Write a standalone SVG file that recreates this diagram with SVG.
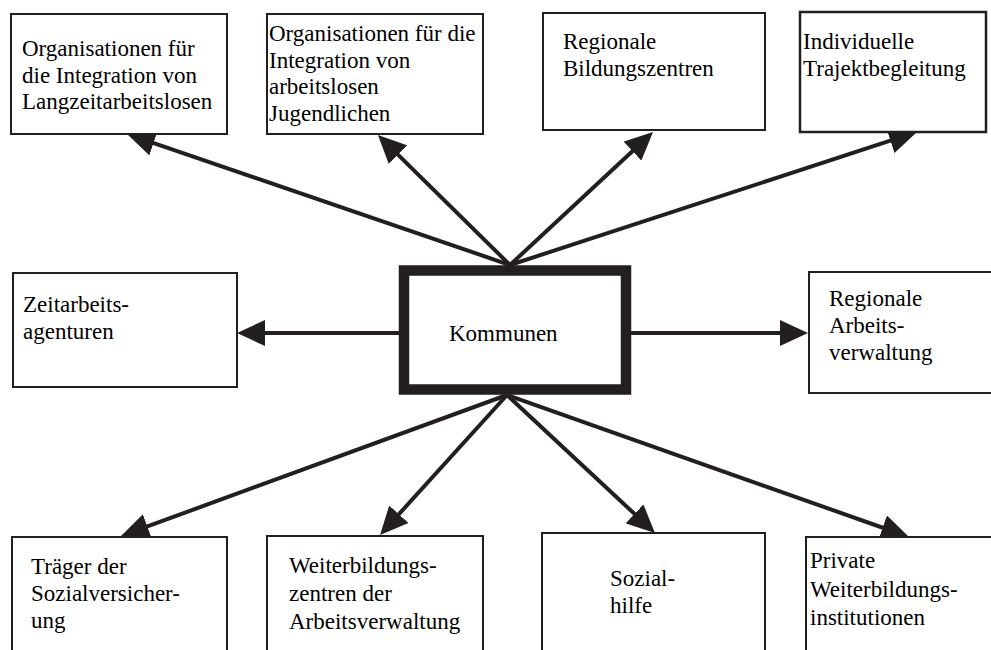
<svg xmlns="http://www.w3.org/2000/svg" width="991" height="650" viewBox="0 0 991 650">
  <style>
    .box { fill: #ffffff; stroke: #231f20; stroke-width: 2; }
    .hub { fill: #ffffff; stroke: #231f20; stroke-width: 10.5; }
    .lbl { font-family: "Liberation Serif", "Times New Roman", serif; font-size: 23px; fill: #000000; }
    .link { stroke: #231f20; stroke-width: 4; fill: none; marker-end: url(#head); }
  </style>
  <defs>
    <marker id="head" markerUnits="userSpaceOnUse" markerWidth="28" markerHeight="26" refX="16" refY="13" orient="auto">
      <path d="M0,0 L28,13 L0,26 z" fill="#231f20"/>
    </marker>
  </defs>
  <rect width="991" height="650" fill="#ffffff"/>

  <!-- connectors from the central node -->
  <g id="connectors">
    <line class="link" x1="510" y1="265" x2="138.4" y2="137.9"/>
    <line class="link" x1="510" y1="265" x2="386.5" y2="143.4"/>
    <line class="link" x1="510" y1="265" x2="644.2" y2="140.2"/>
    <line class="link" x1="510" y1="265" x2="905.6" y2="135.7"/>
    <line class="link" x1="399" y1="333" x2="249" y2="333"/>
    <line class="link" x1="631" y1="333" x2="796" y2="333"/>
    <line class="link" x1="507" y1="395" x2="132.3" y2="531.9"/>
    <line class="link" x1="507" y1="395" x2="388.1" y2="526.1"/>
    <line class="link" x1="507" y1="395" x2="646.2" y2="524.8"/>
    <line class="link" x1="507" y1="395" x2="897.7" y2="533"/>
  </g>

  <g id="kommunen">
    <rect class="hub" x="404" y="270.5" width="222" height="119"/>
    <text class="lbl" x="449" y="341">Kommunen</text>
  </g>

  <g id="langzeitarbeitslose">
    <rect class="box" x="11" y="14" width="216" height="120"/>
    <text class="lbl" x="22" y="56">Organisationen für</text>
    <text class="lbl" x="22" y="82.5">die Integration von</text>
    <text class="lbl" x="22" y="109">Langzeitarbeitslosen</text>
  </g>

  <g id="jugendliche">
    <rect class="box" x="267" y="14" width="216" height="120"/>
    <text class="lbl" x="269" y="41">Organisationen für die</text>
    <text class="lbl" x="269" y="67.5">Integration von</text>
    <text class="lbl" x="269" y="94">arbeitslosen</text>
    <text class="lbl" x="269" y="120.5">Jugendlichen</text>
  </g>

  <g id="bildungszentren">
    <rect class="box" x="543" y="13" width="222" height="117"/>
    <text class="lbl" x="563" y="49">Regionale</text>
    <text class="lbl" x="563" y="76">Bildungszentren</text>
  </g>

  <g id="trajektbegleitung">
    <rect class="box" x="800" y="12" width="186" height="120" style="stroke-width:2.5"/>
    <text class="lbl" x="803" y="49">Individuelle</text>
    <text class="lbl" x="803" y="76">Trajektbegleitung</text>
  </g>

  <g id="zeitarbeit">
    <rect class="box" x="13" y="273" width="224" height="114"/>
    <text class="lbl" x="23" y="312">Zeitarbeits-</text>
    <text class="lbl" x="23" y="339">agenturen</text>
  </g>

  <g id="arbeitsverwaltung">
    <rect class="box" x="809" y="272" width="190" height="121"/>
    <text class="lbl" x="829" y="306">Regionale</text>
    <text class="lbl" x="829" y="333">Arbeits-</text>
    <text class="lbl" x="829" y="360">verwaltung</text>
  </g>

  <g id="sozialversicherung">
    <rect class="box" x="12" y="537" width="215" height="130"/>
    <text class="lbl" x="31" y="574">Träger der</text>
    <text class="lbl" x="31" y="601">Sozialversicher-</text>
    <text class="lbl" x="31" y="628">ung</text>
  </g>

  <g id="weiterbildungszentren">
    <rect class="box" x="267" y="536" width="216" height="130"/>
    <text class="lbl" x="289" y="573">Weiterbildungs-</text>
    <text class="lbl" x="289" y="601">zentren der</text>
    <text class="lbl" x="289" y="629">Arbeitsverwaltung</text>
  </g>

  <g id="sozialhilfe">
    <rect class="box" x="542" y="533" width="223" height="130"/>
    <text class="lbl" x="610" y="586">Sozial-</text>
    <text class="lbl" x="610" y="613">hilfe</text>
  </g>

  <g id="private-weiterbildung">
    <rect class="box" x="806" y="537" width="200" height="130"/>
    <text class="lbl" x="810" y="568">Private</text>
    <text class="lbl" x="810" y="597">Weiterbildungs-</text>
    <text class="lbl" x="810" y="625">institutionen</text>
  </g>
</svg>
